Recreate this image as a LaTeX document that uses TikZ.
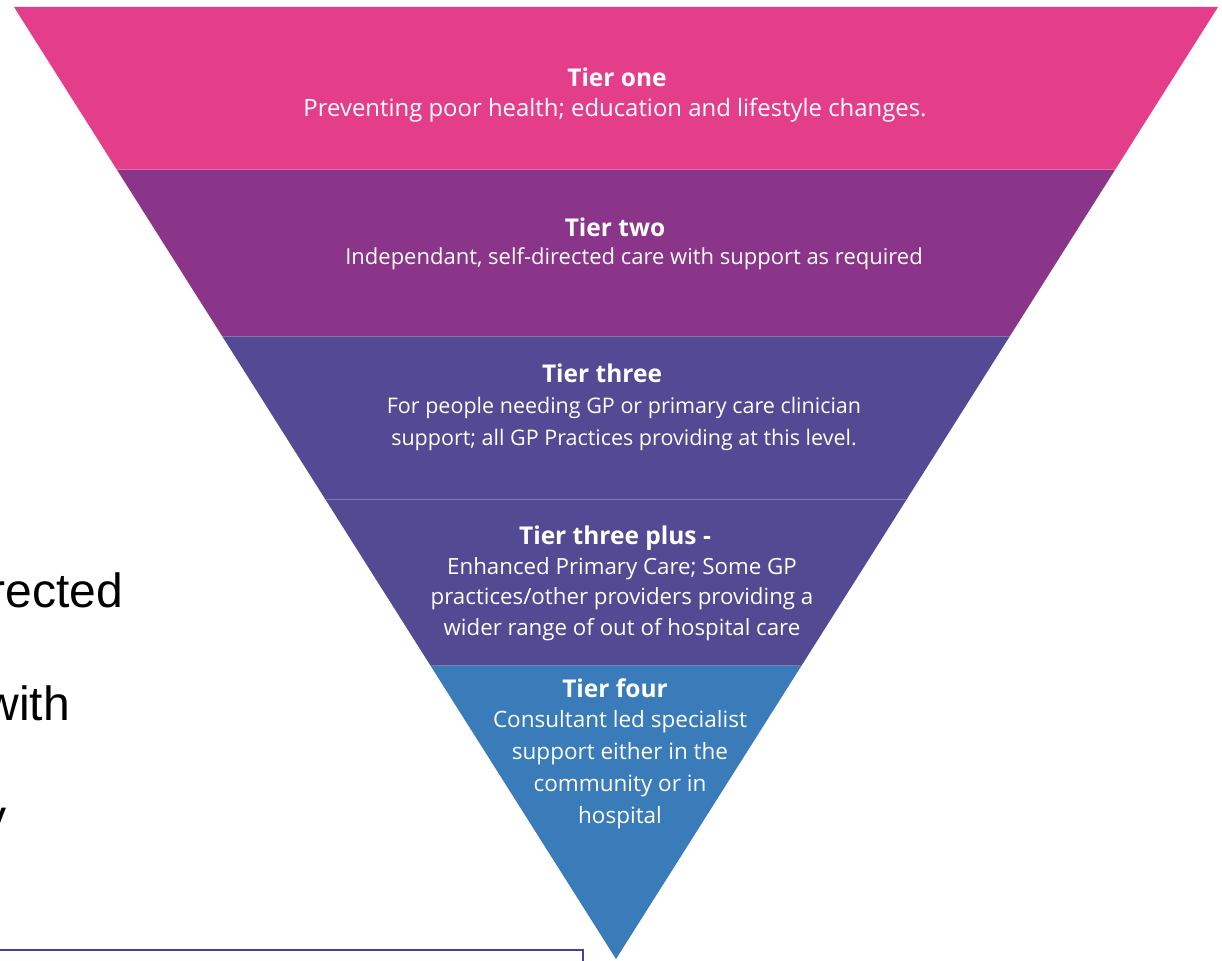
\documentclass[tikz,border=0pt]{standalone}
\usepackage{fontspec}
\setmainfont{Open Sans}
\newfontfamily\arialfont{Liberation Sans}
\usetikzlibrary{calc}
\definecolor{tonecol}{HTML}{E43D8A}
\definecolor{ttwocol}{HTML}{8A3589}
\definecolor{tthreecol}{HTML}{544994}
\definecolor{tplucol}{HTML}{524A93}
\definecolor{tfourcol}{HTML}{3A7BB9}
\definecolor{boxcol}{HTML}{4040A8}
\begin{document}
\begin{tikzpicture}[x=1pt,y=-1pt,
  tiertitle/.style={text=white,anchor=base,inner sep=0pt,font=\bfseries\fontsize{24.5}{30}\selectfont},
  tierbody/.style={text=white,anchor=base,inner sep=0pt,align=center},
  sidetext/.style={anchor=base east,inner sep=0pt,text=black,font=\arialfont\fontsize{48}{56}\selectfont},
  sepline/.style={white,opacity=0.25,line width=1pt}]
\useasboundingbox (0,0) rectangle (1222,960);
\clip (0,0) rectangle (1222,960);
\fill[white] (0,0) rectangle (1222,960);
\coordinate (TL) at (14,7);
\coordinate (TR) at (1218,7);
\coordinate (AP) at (616,959);
\coordinate (L1) at ($(TL)!0.1712!(AP)$);
\coordinate (R1) at ($(TR)!0.1712!(AP)$);
\coordinate (L2) at ($(TL)!0.3456!(AP)$);
\coordinate (R2) at ($(TR)!0.3456!(AP)$);
\coordinate (L3) at ($(TL)!0.5178!(AP)$);
\coordinate (R3) at ($(TR)!0.5178!(AP)$);
\coordinate (L4) at ($(TL)!0.6922!(AP)$);
\coordinate (R4) at ($(TR)!0.6922!(AP)$);
% bands
\fill[tonecol] (TL) -- (TR) -- (R1) -- (L1) -- cycle;
\fill[ttwocol] (L1) -- (R1) -- (R2) -- (L2) -- cycle;
\fill[tthreecol] (L2) -- (R2) -- (R3) -- (L3) -- cycle;
\fill[tplucol] (L3) -- (R3) -- (R4) -- (L4) -- cycle;
\fill[tfourcol] (L4) -- (R4) -- (AP) -- cycle;
\draw[sepline] (L1) -- (R1);
\draw[sepline] (L2) -- (R2);
\draw[sepline] (L3) -- (R3);
\draw[sepline] (L4) -- (R4);
% tier one
\node[tiertitle] (h1) at (617,87) {Tier one};
\node[tierbody,font=\fontsize{23.9}{30}\selectfont] (b1) at (615,117)
  {Preventing poor health; education and lifestyle changes.};
% tier two
\node[tiertitle] (h2) at (615,236) {Tier two};
\node[tierbody,font=\fontsize{22}{30}\selectfont] (b2) at (634,264)
  {Independant, self-directed care with support as required};
% tier three (base anchor = last line)
\node[tiertitle] (h3) at (602,382) {Tier three};
\node[tierbody,font=\fontsize{21.5}{31.5}\selectfont] (b3) at (624,445)
  {For people needing GP or primary care clinician\\support; all GP Practices providing at this level.};
% tier three plus
\node[tiertitle] (h4) at (615,544) {Tier three plus -};
\node[tierbody,font=\fontsize{22.3}{30.3}\selectfont] (b4) at (622,635)
  {Enhanced Primary Care; Some GP\\practices/other providers providing a\\wider range of out of hospital care};
% tier four
\node[tiertitle] (h5) at (615,697) {Tier four};
\node[tierbody,font=\fontsize{22.5}{31.8}\selectfont] (b5) at (620,823)
  {Consultant led specialist\\support either in the\\community or in\\hospital};
% left text fragments (cut off by the picture's left edge)
\node[sidetext] (s1) at (123,607) {rected};
\node[sidetext] (s2) at (70,720) {with};
\node[sidetext] (s3) at (7,833) {y};
% box
\draw[boxcol,line width=1.5pt] (-10,950) rectangle (583,990);
\end{tikzpicture}
\end{document}
